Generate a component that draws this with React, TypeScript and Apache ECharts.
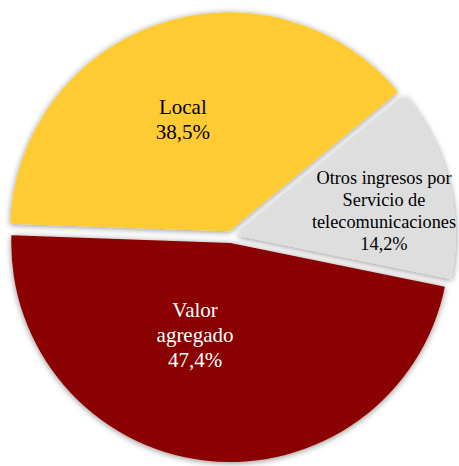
import React, { useEffect, useRef } from "react";
import * as echarts from "echarts";

const categories = ["Local", "Otros ingresos por\nServicio de\ntelecomunicaciones", "Valor\nagregado"];
const values = [38.5, 14.2, 47.4];
const valueLabels = ["38,5%", "14,2%", "47,4%"];

export default function App() {
  const ref = useRef<HTMLDivElement>(null);
  useEffect(() => {
    if (!ref.current) return;
    const chart = echarts.init(ref.current, undefined, { renderer: "svg" });
    const colors = ["#FFCB32", "#DFDEDF", "#8B0000"];
    const textColors = ["#000000", "#000000", "#FFFFFF"];
    const fontSizes = [21, 18.3, 21];
    const lineHeights = [25, 22, 25];
    const shifts = [
      [-10, -5],
      [38, 3],
      [-22, -20],
    ];
    const font = "Liberation Serif";
    const data = categories.map((name, i) => ({
      name,
      value: values[i],
      selected: true,
      itemStyle: { color: colors[i] },
    }));
    const rich: any = {};
    [0, 1, 2].forEach((i) => {
      rich["t" + i] = {
        fontFamily: font,
        fontSize: fontSizes[i],
        lineHeight: lineHeights[i],
        color: textColors[i],
        align: "center",
      };
    });
    chart.setOption({
      animation: false,
      textStyle: { fontFamily: font },
      series: [
        {
          type: "pie",
          center: [231, 237],
          radius: [0, 219],
          startAngle: 178,
          clockwise: true,
          selectedMode: "multiple",
          selectedOffset: 6,
          avoidLabelOverlap: false,
          data,
          itemStyle: {
            borderWidth: 0,
            shadowBlur: 6,
            shadowColor: "rgba(0,0,0,0.45)",
            shadowOffsetX: 0,
            shadowOffsetY: 1,
          },
          label: {
            show: true,
            position: "inside",
            fontFamily: font,
            align: "center",
            formatter: (p: any) =>
              (p.name + "\n" + valueLabels[p.dataIndex])
                .split("\n")
                .map((line: string) => "{t" + p.dataIndex + "|" + line + "}")
                .join("\n"),
            rich,
          },
          labelLayout: (p: any) => ({ dx: shifts[p.dataIndex][0], dy: shifts[p.dataIndex][1] }),
          labelLine: { show: false },
          emphasis: { disabled: true },
        },
      ],
    });
    return () => chart.dispose();
  }, []);
  return (
    <div
      ref={ref}
      style={{ position: "fixed", left: 0, top: 0, width: 459, height: 466, background: "#fff" }}
    />
  );
}
